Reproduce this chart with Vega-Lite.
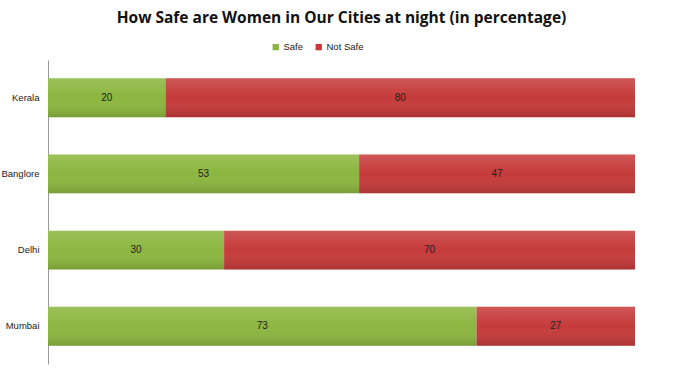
{
  "$schema": "https://vega.github.io/schema/vega-lite/v6.json",
  "autosize": "none",
  "width": 587,
  "height": 304,
  "padding": {"left": 48, "top": 60, "right": 40, "bottom": 12},
  "background": "white",
  "config": {"view": {"stroke": null}, "font": "Liberation Sans"},
  "title": {"text": "How Safe are Women in Our Cities at night (in percentage)", "fontSize": 15.5, "fontWeight": "bold", "font": "Open Sans", "color": "#111", "anchor": "middle", "offset": 16},
  "data": {"values": [
    {"city": "Kerala", "type": "Safe", "value": 20},
    {"city": "Kerala", "type": "Not Safe", "value": 80},
    {"city": "Banglore", "type": "Safe", "value": 53},
    {"city": "Banglore", "type": "Not Safe", "value": 47},
    {"city": "Delhi", "type": "Safe", "value": 30},
    {"city": "Delhi", "type": "Not Safe", "value": 70},
    {"city": "Mumbai", "type": "Safe", "value": 73},
    {"city": "Mumbai", "type": "Not Safe", "value": 27}
  ]},
  "transform": [
    {"stack": "value", "groupby": ["city"], "sort": [{"field": "type", "order": "descending"}], "as": ["v0", "v1"]},
    {"calculate": "(datum.v0 + datum.v1) / 2", "as": "mid"}
  ],
  "encoding": {
    "y": {"field": "city", "type": "nominal", "sort": ["Kerala", "Banglore", "Delhi", "Mumbai"],
      "scale": {"paddingInner": 0.49, "paddingOuter": 0.24},
      "axis": {"title": null, "ticks": false, "domainColor": "#999", "labelFontSize": 9.5, "labelColor": "#222", "labelPadding": 9, "labelFont": "Liberation Sans"}}
  },
  "layer": [
    {
      "mark": {"type": "bar", "cornerRadius": 0},
      "encoding": {
        "x": {"field": "v0", "type": "quantitative", "scale": {"domain": [0, 100], "nice": false}, "axis": null},
        "x2": {"field": "v1"},
        "color": {"field": "type", "type": "nominal", "scale": {"domain": ["Safe", "Not Safe"], "range": ["#8cb63f", "#c63a3a"]},
          "legend": {"title": null, "orient": "none", "legendX": 223, "legendY": -18, "direction": "horizontal", "symbolType": "square", "symbolSize": 40, "symbolStrokeWidth": 0, "labelFontSize": 9.5, "labelColor": "#222", "columnPadding": 10, "labelOffset": 3}}
      }
    },
    {
      "mark": {"type": "bar", "fill": {"gradient": "linear", "x1": 0, "y1": 0, "x2": 0, "y2": 1, "stops": [{"offset": 0, "color": "rgba(255,255,255,0.15)"}, {"offset": 0.5, "color": "rgba(255,255,255,0)"}, {"offset": 1, "color": "rgba(0,0,0,0.14)"}]}},
      "encoding": {
        "x": {"field": "v0", "type": "quantitative"},
        "x2": {"field": "v1"}
      }
    },
    {
      "mark": {"type": "text", "fontSize": 10, "color": "#222", "align": "center", "baseline": "middle"},
      "encoding": {
        "x": {"field": "mid", "type": "quantitative"},
        "text": {"field": "value", "type": "quantitative"}
      }
    }
  ]
}
